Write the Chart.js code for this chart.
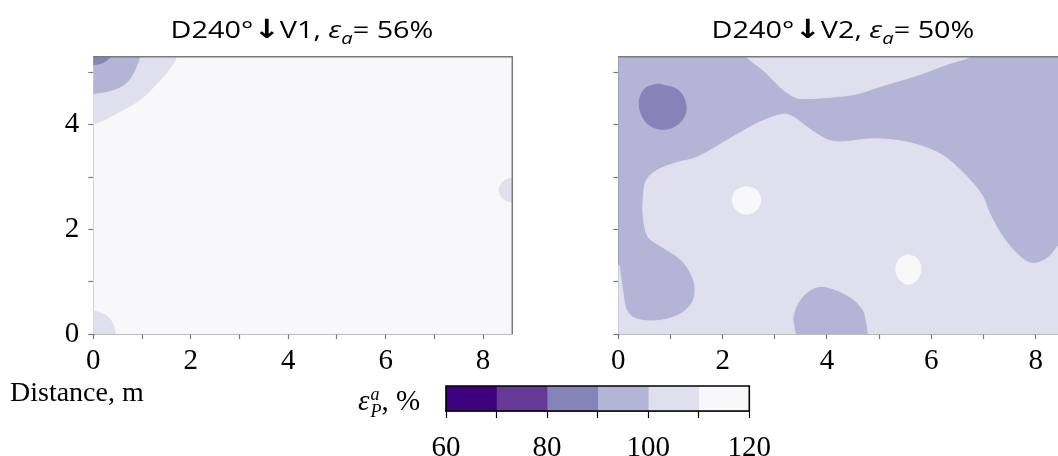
<!DOCTYPE html>
<html>
<head>
<meta charset="utf-8">
<script src="https://cdn.jsdelivr.net/npm/chart.js@4.4.1/dist/chart.umd.min.js"></script>
<style>
  html, body { margin: 0; padding: 0; background: #fff; overflow: hidden; }
  body { position: relative; width: 1058px; height: 456px; }
  canvas { position: absolute; }
  .title { position: absolute; top: 14px; font-family: 'Open Sans', sans-serif; font-size: 24px; line-height: 30px; color: #000; white-space: nowrap; transform: translateX(-50%) scaleX(1.2); }
  .title .arr { font-family: 'DejaVu Sans', sans-serif; font-weight: bold; font-size: 1.1em; }
  .title i sub { font-size: 0.7em; }
  .serif { position: absolute; font-family: 'Liberation Serif', serif; color: #000; white-space: nowrap; }
  .stack { display: inline-flex; flex-direction: column; vertical-align: middle; font-size: 0.62em; line-height: 0.95; margin-left: 1px; }
</style>
</head>
<body>
<canvas id="map-v1" width="540" height="390" style="left:0;top:0"></canvas>
<canvas id="map-v2" width="520" height="390" style="left:560px;top:0"></canvas>
<canvas id="colorbar" width="340" height="80" style="left:430px;top:376px"></canvas>
<div class="title" style="left:302px">D240°<span class="arr">↓</span>V1, <i>ε<sub>a</sub></i>= 56%</div>
<div class="title" style="left:843px">D240°<span class="arr">↓</span>V2, <i>ε<sub>a</sub></i>= 50%</div>
<div class="serif" style="left:10px;top:376px;font-size:28px">Distance, m</div>
<div class="serif" style="left:358px;top:384px;font-size:29px"><i>ε</i><span class="stack"><i>a</i><i>P</i></span>, %</div>
<script>
// colour levels of the strain map (%)
const levels = [60, 70, 80, 90, 100, 110, 120];
const levelColors = ['#3f007d', '#643a96', '#8683b9', '#b4b4d6', '#e0dfed', '#f8f8fa'];

// extent of the survey area (m)
const xMaxV1 = 8.6;
const xMaxV2 = 8.6;
const yMax = 5.3;

// V1 contour regions, [x, y] in metres
const v1Base = [[-1, -1], [9.6, -1], [9.6, 6.3], [-1, 6.3]];
const v1CornerLight = [[-0.4, 3.82], [0, 4.02], [0.17, 4.07], [0.48, 4.22], [0.96, 4.48], [1.37, 4.85], [1.55, 5.05], [1.71, 5.29], [1.85, 5.6], [-0.4, 5.6]];
const v1CornerMid = [[-0.4, 4.58], [0, 4.6], [0.34, 4.65], [0.62, 4.76], [0.78, 4.92], [0.9, 5.15], [0.95, 5.3], [1.0, 5.6], [-0.4, 5.6]];
const v1CornerDark = [[-0.4, 5.14], [0, 5.15], [0.21, 5.19], [0.31, 5.26], [0.38, 5.32], [0.4, 5.6], [-0.4, 5.6]];
const v1EdgeSpot = [[9.0, 3.02], [8.6, 2.98], [8.42, 2.92], [8.33, 2.75], [8.42, 2.58], [8.6, 2.52], [9.0, 2.48]];
const v1OriginSpot = [[-0.4, 0.46], [0, 0.44], [0.25, 0.36], [0.4, 0.2], [0.45, 0], [0.46, -0.4], [-0.4, -0.4]];

// V2 contour regions
const v2Base = [[-1, -1], [9.6, -1], [9.6, 6.3], [-1, 6.3]];
const v2TopLight = [[2.3, 5.6], [2.46, 5.3], [2.78, 5.04], [3.1, 4.72], [3.32, 4.56], [3.48, 4.5], [4.12, 4.53], [4.57, 4.59], [5.08, 4.75], [5.72, 4.94], [6.35, 5.17], [6.74, 5.3], [7.1, 5.6]];
const v2MidLight = [
  [-0.4, -0.4], [-0.4, 1.32], [0, 1.32], [0.03, 1.22], [0.1, 0.71], [0.16, 0.46], [0.32, 0.3], [0.7, 0.25],
  [1.15, 0.36], [1.41, 0.59], [1.47, 0.84], [1.42, 1.09], [1.21, 1.41], [0.83, 1.67], [0.57, 1.86],
  [0.48, 2.24], [0.48, 2.62], [0.54, 2.94], [0.74, 3.13], [1.1, 3.27], [1.51, 3.38], [2.2, 3.77],
  [2.71, 4.05], [3.16, 4.2], [3.35, 4.15], [3.61, 3.96], [3.99, 3.72], [4.25, 3.67], [4.89, 3.73],
  [5.52, 3.67], [6.03, 3.51], [6.35, 3.32], [6.8, 2.88], [6.99, 2.62], [7.12, 2.3], [7.37, 1.86],
  [7.7, 1.48], [7.94, 1.35], [8.21, 1.44], [8.42, 1.67], [8.6, 1.89], [9.0, 2.2], [9.0, -0.4],
  [4.8, -0.4], [4.79, 0], [4.75, 0.27], [4.69, 0.46], [4.44, 0.71], [3.99, 0.9], [3.73, 0.87],
  [3.48, 0.65], [3.35, 0.33], [3.39, 0], [3.4, -0.4]
];
const v2DarkSpot = [[0.77, 4.78], [1.16, 4.65], [1.3, 4.33], [1.18, 4.04], [0.86, 3.91], [0.54, 4.04], [0.4, 4.4], [0.51, 4.69], [0.77, 4.78]];
const v2WhiteSpotA = [[2.46, 2.82], [2.65, 2.75], [2.73, 2.56], [2.65, 2.37], [2.46, 2.29], [2.26, 2.37], [2.19, 2.56], [2.26, 2.75], [2.46, 2.82]];
const v2WhiteSpotB = [[5.56, 1.52], [5.73, 1.44], [5.8, 1.24], [5.73, 1.04], [5.56, 0.95], [5.39, 1.04], [5.32, 1.24], [5.39, 1.44], [5.56, 1.52]];

const axisGray = '#7a7a7a';
const tickFont = { family: 'Liberation Serif', size: 29 };

// draws top and right edge of the plot box
const framePlugin = {
    id: 'frame',
    afterDatasetsDraw(chart, args, opts) {
        const { ctx, chartArea: a } = chart;
        ctx.save();
        ctx.strokeStyle = opts.color;
        ctx.lineWidth = opts.width;
        ctx.beginPath();
        if (opts.all) {
            ctx.rect(a.left, a.top, a.right - a.left, a.bottom - a.top);
        } else {
            ctx.moveTo(a.left, a.top);
            ctx.lineTo(a.right, a.top);
            ctx.lineTo(a.right, a.bottom);
        }
        ctx.stroke();
        ctx.restore();
    }
};

function region(points, color) {
    return {
        data: points.map(p => ({ x: p[0], y: p[1] })),
        showLine: true,
        fill: 'shape',
        backgroundColor: color,
        borderColor: color,
        borderWidth: 1,
        pointRadius: 0,
        tension: 0.35
    };
}

function makeMap(id, layers, xMax, yAxisWidth, padding, showYLabels) {
    const datasets = layers.map((l, i) => Object.assign(region(l[0], l[1]), { order: layers.length - i }));
    return new Chart(document.getElementById(id), {
        type: 'scatter',
        data: { datasets },
        plugins: [framePlugin],
        options: {
            responsive: false,
            animation: false,
            events: [],
            layout: { padding },
            plugins: {
                legend: { display: false },
                tooltip: { enabled: false },
                frame: { color: axisGray, width: 1.5 }
            },
            scales: {
                x: {
                    type: 'linear', min: 0, max: xMax,
                    ticks: {
                        stepSize: 1, includeBounds: false, autoSkip: false, maxRotation: 0,
                        callback: v => (v % 2 === 0 ? v : ''),
                        font: tickFont, color: '#000', padding: 5
                    },
                    grid: { drawOnChartArea: false, tickLength: 5, tickColor: axisGray, tickWidth: 1.2 },
                    border: { color: axisGray, width: 1.5 },
                    afterFit: s => { s.height = 56; s.paddingLeft = 0; s.paddingRight = 0; }
                },
                y: {
                    type: 'linear', min: 0, max: yMax,
                    ticks: {
                        display: showYLabels,
                        stepSize: 1, includeBounds: false, autoSkip: false,
                        callback: v => (v % 2 === 0 ? v : ''),
                        font: tickFont, color: '#000', padding: 9
                    },
                    grid: { drawOnChartArea: false, tickLength: 5, tickColor: axisGray, tickWidth: 1.2 },
                    border: { color: axisGray, width: 1.5 },
                    afterFit: s => { s.width = yAxisWidth; s.paddingTop = 0; s.paddingBottom = 0; }
                }
            }
        }
    });
}

makeMap('map-v1', [
    [v1Base, levelColors[5]],
    [v1CornerLight, levelColors[4]],
    [v1CornerMid, levelColors[3]],
    [v1CornerDark, levelColors[2]],
    [v1EdgeSpot, levelColors[4]],
    [v1OriginSpot, levelColors[4]]
], xMaxV1, 93.3, { top: 56.7, right: 27.7, bottom: 0, left: 0 }, true);

makeMap('map-v2', [
    [v2Base, levelColors[3]],
    [v2TopLight, levelColors[4]],
    [v2MidLight, levelColors[4]],
    [v2DarkSpot, levelColors[2]],
    [v2WhiteSpotA, levelColors[5]],
    [v2WhiteSpotB, levelColors[5]]
], xMaxV2, 58.3, { top: 56.7, right: 13, bottom: 0, left: 0 }, false);

// colour bar: one floating bar per level band
new Chart(document.getElementById('colorbar'), {
    type: 'bar',
    data: {
        labels: ['band'],
        datasets: levelColors.map((c, i) => ({
            data: [[levels[i], levels[i + 1]]],
            backgroundColor: c,
            borderWidth: 0,
            grouped: false,
            barPercentage: 1,
            categoryPercentage: 1
        }))
    },
    plugins: [framePlugin],
    options: {
        indexAxis: 'y',
        responsive: false,
        animation: false,
        events: [],
        layout: { padding: { top: 10, right: 20.7, bottom: 0, left: 16 } },
        plugins: {
            legend: { display: false },
            tooltip: { enabled: false },
            frame: { color: '#000', width: 1.6, all: true }
        },
        scales: {
            x: {
                type: 'linear', min: 60, max: 120,
                ticks: {
                    stepSize: 10, autoSkip: false, maxRotation: 0,
                    callback: v => (v % 20 === 0 ? v : ''),
                    font: tickFont, color: '#000', padding: 13
                },
                grid: { drawOnChartArea: false, tickLength: 7, tickColor: '#000', tickWidth: 1.2 },
                border: { color: '#000', width: 1.6 },
                afterFit: s => { s.height = 45; s.paddingLeft = 0; s.paddingRight = 0; }
            },
            y: { display: false }
        }
    }
});
</script>
</body>
</html>
